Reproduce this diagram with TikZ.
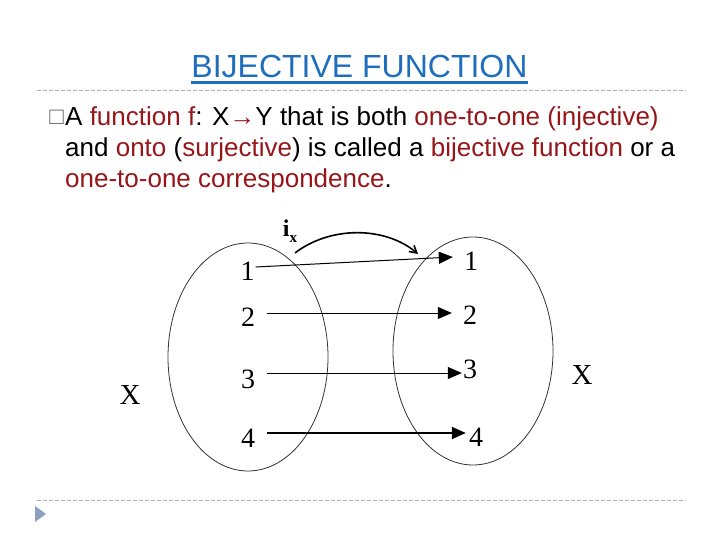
\documentclass[tikz,border=0pt]{standalone}
\usepackage{fontspec}
\setmainfont{Liberation Sans}
\newfontfamily\timesf{Liberation Serif}
\usetikzlibrary{arrows.meta,shapes.geometric}
\definecolor{titleblue}{RGB}{30,110,190}
\definecolor{dred}{RGB}{150,22,26}
\definecolor{rulegray}{RGB}{175,175,175}
\definecolor{navblue}{RGB}{140,160,192}
\tikzset{
  bodyline/.style={anchor=base west, inner sep=0pt, font=\fontsize{26}{31}\selectfont},
  setell/.style={draw=black!80, line width=0.8pt, ellipse, minimum width=160pt, minimum height=228pt, inner sep=0pt},
  num/.style={inner sep=0pt, font=\timesf\fontsize{28}{28}\selectfont},
  setlabel/.style={inner sep=0pt, font=\timesf\fontsize{29}{29}\selectfont},
  maparrow/.style={draw=black, line width=1pt, -{Triangle[length=14pt,width=12pt]}},
  sep/.style={draw=rulegray, line width=0.8pt, dash pattern=on 4pt off 2pt}
}
\begin{document}
\begin{tikzpicture}[x=1pt,y=-1pt]
\useasboundingbox (0,0) rectangle (720,540);
% title
\node[inner sep=0pt, anchor=base, text=titleblue, font=\fontsize{32}{32}\selectfont] (title) at (359.5,78) {BIJECTIVE FUNCTION};
\draw[titleblue, line width=2.4pt] ([yshift=-4.5pt]title.base west) -- ([yshift=-4.5pt]title.base east);
% separators
\coordinate (s1a) at (37,90); \coordinate (s1b) at (686,90);
\draw[sep] (s1a) -- (s1b);
\coordinate (s2a) at (37,500); \coordinate (s2b) at (686,500);
\draw[sep] (s2a) -- (s2b);
\fill[navblue] (35,506) -- (46,514) -- (35,522) -- cycle;
% body text
\node[inner sep=0pt, anchor=base east, text=black!60, font=\fontsize{24}{24}\selectfont] (bullet) at (64,125) {□};
\node[bodyline] (line1) at (65,126) {A \textcolor{dred}{function f}: X\textcolor{dred}{→}Y that is both \textcolor{dred}{one-to-one (injective)}};
\node[bodyline] (line2) at (65,157) {and \textcolor{dred}{onto} (\textcolor{dred}{surjective}) is called a \textcolor{dred}{bijective function} or a};
\node[bodyline] (line3) at (65,188) {\textcolor{dred}{one-to-one correspondence}.};
% sets
\node[setell] (L) at (248,357) {};
\node[setell] (R) at (473,351) {};
% elements
\node[num] (l1) at (247.5,271) {1};
\node[num] (l2) at (248,317) {2};
\node[num] (l3) at (248,379) {3};
\node[num] (l4) at (248,438) {4};
\node[num] (r1) at (471,261) {1};
\node[num] (r2) at (470,315) {2};
\node[num] (r3) at (470,369) {3};
\node[num] (r4) at (476,437) {4};
\node[setlabel] (XL) at (130,395) {X};
\node[setlabel] (XR) at (582,375) {X};
% maps
\draw[maparrow] ([xshift=1pt,yshift=4pt]l1.east) -- ([xshift=-11pt,yshift=4pt]r1.west);
\draw[maparrow] ([xshift=12pt,yshift=4pt]l2.east) -- ([xshift=-11pt,yshift=2pt]r2.west);
\draw[maparrow] ([xshift=12pt,yshift=6pt]l3.east) -- ([xshift=-1pt,yshift=-4pt]r3.west);
\draw[maparrow, line width=2pt] ([xshift=12pt,yshift=5pt]l4.east) -- ([xshift=-3pt,yshift=4pt]r4.west);
% identity label and arc
\node[inner sep=0pt, font=\timesf\bfseries\fontsize{24}{24}\selectfont] (ix) at (290,231) {i\raisebox{-6pt}{\fontsize{15}{15}\selectfont x}};
\coordinate (ixs) at (295,253);
\coordinate (ixe) at (418,254);
\draw[line width=1.6pt, -{Straight Barb[length=7pt,width=8pt]}] (ixs) .. controls (330,226) and (385,226) .. (ixe);
\end{tikzpicture}
\end{document}
